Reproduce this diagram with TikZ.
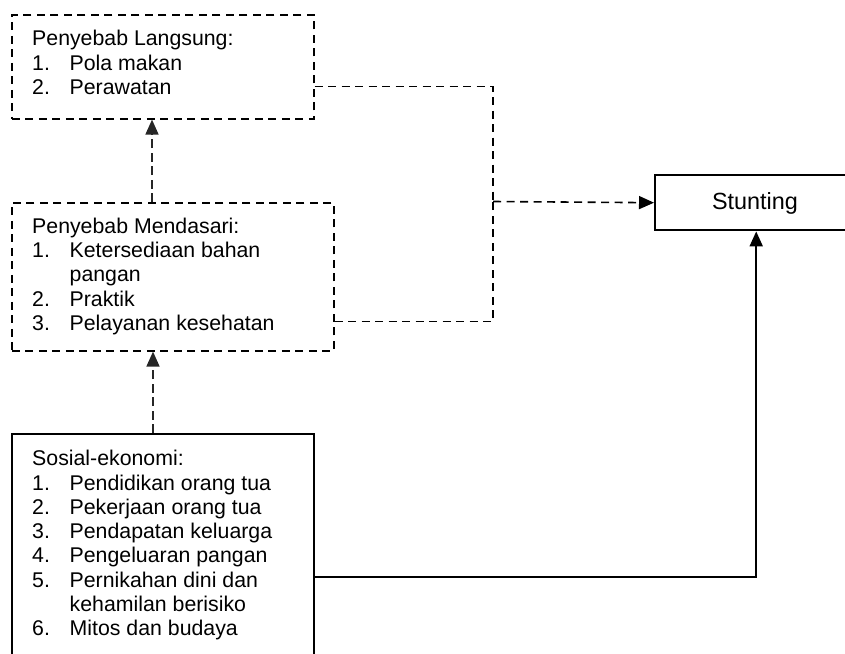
\documentclass[tikz,border=0pt]{standalone}
\usepackage{fontspec}
\setmainfont{Liberation Sans}
\usetikzlibrary{arrows.meta}
\newcommand{\itm}[1]{\makebox[37.5pt][l]{#1}}
\begin{document}
\begin{tikzpicture}[x=1pt,y=-1pt,
  dbox/.style={draw, dash pattern=on 8pt off 5.5pt, line width=1.6pt, inner sep=0pt, anchor=north west},
  sbox/.style={draw, line width=2.4pt, inner sep=0pt, anchor=north west},
  txt/.style={anchor=base west, inner sep=0pt, font=\fontsize{21.3}{24.3}\selectfont},
  dline/.style={dash pattern=on 8pt off 5.5pt, line width=1.6pt},
  vline/.style={dash pattern=on 9pt off 4.5pt, line width=1.6pt, draw=black!85},
  sline/.style={line width=2pt},
  tip/.style={-{Triangle[length=15pt,width=13pt]}}
]
\path[use as bounding box] (0,0) rectangle (845,653);
\clip (0,0) rectangle (845,653);

% boxes
\node[dbox, minimum width=302pt, minimum height=104pt] (l) at (11,14) {};
\node[dbox, minimum width=322pt, minimum height=148pt] (m) at (11,202) {};
\node[sbox, minimum width=302pt, minimum height=240pt] (so) at (11,433) {};
\node[sbox, minimum width=202pt, minimum height=55pt] (st) at (654,174) {};

% texts
\node[txt] (lt) at (32,45.7) {\parbox[t]{270pt}{\raggedright
Penyebab Langsung:\\
\itm{1.}Pola makan\\
\itm{2.}Perawatan}};
\node[txt] (mt) at (32,233.3) {\parbox[t]{290pt}{\raggedright
Penyebab Mendasari:\\
\itm{1.}Ketersediaan bahan\\
\itm{}pangan\\
\itm{2.}Praktik\\
\itm{3.}Pelayanan kesehatan}};
\node[txt] (sot) at (32,465.7) {\parbox[t]{270pt}{\raggedright
Sosial-ekonomi:\\
\itm{1.}Pendidikan orang tua\\
\itm{2.}Pekerjaan orang tua\\
\itm{3.}Pendapatan keluarga\\
\itm{4.}Pengeluaran pangan\\
\itm{5.}Pernikahan dini dan\\
\itm{}kehamilan berisiko\\
\itm{6.}Mitos dan budaya}};
\node[anchor=base, inner sep=0pt, font=\fontsize{23.4}{27}\selectfont] (stt) at (755,209) {Stunting};

% connectors
\coordinate (j) at (493,201.5);
\draw[dline] ([yshift=33pt]l.south east) -| (j);
\draw[dline] ([yshift=30pt]m.south east) -| (j);
\draw[dline,tip] (j) -- (st.west);
\draw[vline,tip] ([xshift=141pt]m.north west) -- ([xshift=141pt]l.south west);
\draw[vline,tip] ([xshift=142pt]so.north west) -- ([xshift=142pt]m.south west);
\draw[sline,tip] ([yshift=-144pt]so.north east) -| (st.south);
\end{tikzpicture}
\end{document}
